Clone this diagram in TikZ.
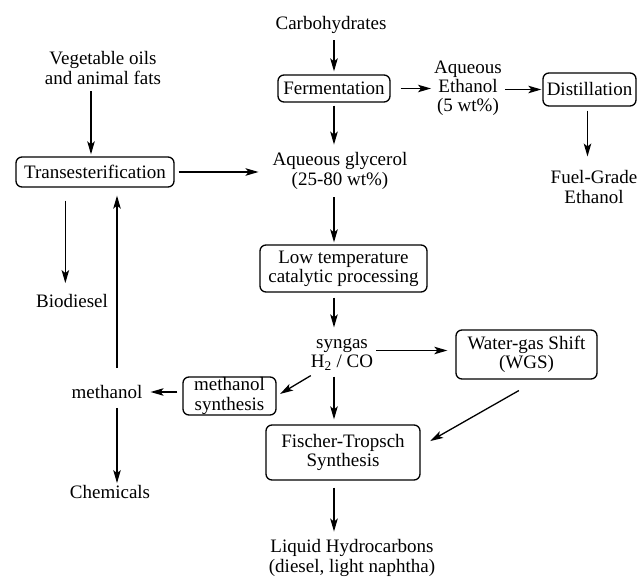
\documentclass[tikz,border=0pt]{standalone}
\usepackage{fontspec}
\setmainfont{Liberation Serif}
\usetikzlibrary{arrows.meta}

\begin{document}
\begin{tikzpicture}[x=1pt, y=-1pt,
    font=\fontsize{19}{19.2}\selectfont,
    proc/.style={draw, line width=1.3pt, rounded corners=6pt, align=center, inner sep=0pt},
    lbl/.style={align=center, inner sep=0pt},
    link/.style={-{Stealth[length=13pt, width=7.5pt, inset=3pt]}, line width=1.3pt},
]
    \useasboundingbox (0,0) rectangle (641,577);

    % feedstocks and products
    \node[lbl] (carb) at (331, 24.5) {Carbohydrates};
    \node[lbl] (veg) at (103, 68) {Vegetable oils\\and animal fats};
    \node[lbl] (aqeth) at (468, 88) {Aqueous\\Ethanol\\(5 wt\%)};
    \node[lbl] (fuel) at (594, 187) {Fuel-Grade\\Ethanol};
    \node[lbl] (glyc) at (340, 171) {Aqueous glycerol\\(25-80 wt\%)};
    \node[lbl] (bio) at (72, 301) {Biodiesel};
    \node[lbl] (meth) at (107, 392) {methanol};
    \node[lbl] (chem) at (110, 492) {Chemicals};
    \node[lbl] (syngas) at (342, 354.5) {syngas\\H\textsubscript{2} / CO};
    \node[lbl] (lhc) at (352, 558) {Liquid Hydrocarbons\\(diesel, light naphtha)};

    % process steps
    \node[proc, minimum width=112pt, minimum height=27pt] (ferm) at (334, 88.5) {Fermentation};
    \node[proc, minimum width=93pt, minimum height=33pt] (dist) at (589.5, 89.5) {Distillation};
    \node[proc, minimum width=158pt, minimum height=30pt] (trans) at (95, 172) {Transesterification};
    \node[proc, minimum width=93pt, minimum height=38pt] (msynth) at (229.5, 396) {methanol\\synthesis};
    \node[proc, minimum width=167pt, minimum height=47pt] (lowt) at (343.5, 268.5) {Low temperature\\catalytic processing};
    \node[proc, minimum width=141pt, minimum height=49pt] (wgs) at (526.5, 354.5) {Water-gas Shift\\(WGS)};
    \node[proc, minimum width=154pt, minimum height=55pt] (ft) at (343, 452.5) {Fischer-Tropsch\\Synthesis};

    % ethanol route
    \draw[link, shorten <=7pt, shorten >=3pt] (ferm.north |- carb.south) -- (ferm.north);
    \draw[link, shorten <=10pt, shorten >=3pt] (ferm.east) -- (aqeth.west |- ferm.east);
    \draw[link, shorten <=3pt, shorten >=1pt] (aqeth.east |- dist.west) -- (dist.west);
    \draw[link, shorten <=4pt, shorten >=14pt] ([xshift=-2pt]dist.south) -- ([xshift=-2pt]dist.south |- fuel.north);
    \draw[link, shorten <=3pt, shorten >=8pt] (ferm.south) -- (ferm.south |- glyc.north);

    % biodiesel route
    \draw[link, shorten <=7pt, shorten >=2pt] ([xshift=-4pt]trans.north |- veg.south) -- ([xshift=-4pt]trans.north);
    \draw[link, shorten <=4pt, shorten >=14pt] (trans.east) -- (trans.east -| glyc.west);
    \draw[link, shorten <=13pt, shorten >=11pt] ([xshift=50pt]trans.south west) -- ([xshift=50pt]trans.south west |- bio.north);
    \draw[link, shorten <=17pt, shorten >=8pt] ([xshift=10pt]meth.north) -- ([xshift=10pt]meth.north |- trans.south);
    \draw[link, shorten <=9pt, shorten >=2pt] ([xshift=10pt]meth.south) -- ([xshift=10pt]meth.south |- chem.north);
    \draw[link, shorten <=5pt, shorten >=8pt] (msynth.west |- meth.east) -- (meth.east);

    % glycerol to fuels
    \draw[link, shorten <=8pt, shorten >=2pt] (ferm.south |- glyc.south) -- (ferm.south |- lowt.north);
    \draw[link, shorten <=5pt, shorten >=11pt] (ferm.south |- lowt.south) -- (ferm.south |- syngas.north);
    \draw[link, shorten <=3pt, shorten >=8pt] ([yshift=4pt]syngas.east) -- ([yshift=4pt]syngas.east -| wgs.west);
    \draw[link, shorten >=4pt] ([yshift=-5pt]syngas.south west) -- (msynth.east);
    \draw[link, shorten <=6pt, shorten >=5pt] (ferm.south |- syngas.south) -- (ferm.south |- ft.north);
    \draw[link, shorten <=22pt, shorten >=11pt] ([xshift=11.5pt]wgs.south) -- ([yshift=6pt]ft.east);
    \draw[link, shorten <=7pt, shorten >=8pt] (ferm.south |- ft.south) -- (ferm.south |- lhc.north);
\end{tikzpicture}
\end{document}
